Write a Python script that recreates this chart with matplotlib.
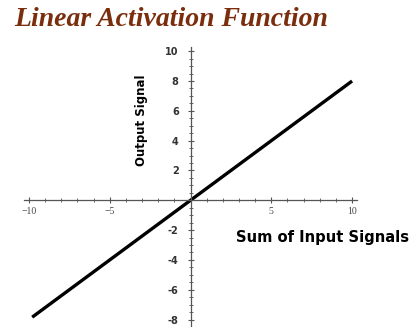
import matplotlib.pyplot as plt
import numpy as np
from matplotlib.ticker import MultipleLocator

# data
x_vals = [-9.8, 10]
y_vals = [-7.84, 8]
x_ticks = [-10, -5, 5, 10]
y_ticks = [-8, -6, -4, -2, 2, 4, 6, 8, 10]

fig = plt.figure(figsize=(4.16, 3.27), dpi=100)
ax = fig.add_axes([0.058, 0.0, 0.80, 0.857])

ax.plot(x_vals, y_vals, color='black', lw=2.4, solid_capstyle='butt')

ax.set_xlim(-10.3, 10.3)
ax.set_ylim(-8.5, 10.3)

for side in ['top', 'right']:
    ax.spines[side].set_visible(False)
ax.spines['left'].set_position(('data', 0))
ax.spines['bottom'].set_position(('data', 0))
for side in ['left', 'bottom']:
    ax.spines[side].set_color('#555555')
    ax.spines[side].set_linewidth(0.9)

ax.set_xticks(x_ticks)
ax.set_xticklabels(['\u221210', '\u22125', '5', '10'], family='Liberation Serif', fontsize=7, color='#444444')
ax.set_yticks(y_ticks)
ax.set_yticklabels([str(v) for v in y_ticks], family='DejaVu Sans', fontsize=7, fontweight='bold', color='#333333')
ax.xaxis.set_minor_locator(MultipleLocator(1))
ax.yaxis.set_minor_locator(MultipleLocator(0.5))
ax.tick_params(axis='both', which='major', direction='inout', length=5, width=0.8, color='#555555')
ax.tick_params(axis='both', which='minor', direction='inout', length=3, width=0.6, color='#555555')
ax.tick_params(axis='x', pad=2)
ax.tick_params(axis='y', pad=6)

fig.text(0.035, 0.94, 'Linear Activation Function', family='Liberation Serif', style='italic',
         fontweight='bold', fontsize=20, color='#7a2e0e', ha='left', va='center')
fig.text(0.339, 0.633, 'Output Signal', rotation=90, family='DejaVu Sans', fontweight='bold',
         fontsize=8.5, ha='center', va='center', color='black')
fig.text(0.568, 0.275, 'Sum of Input Signals', family='DejaVu Sans', fontweight='bold',
         fontsize=10.6, ha='left', va='center', color='black')

fig.savefig('out.png', dpi=100)
